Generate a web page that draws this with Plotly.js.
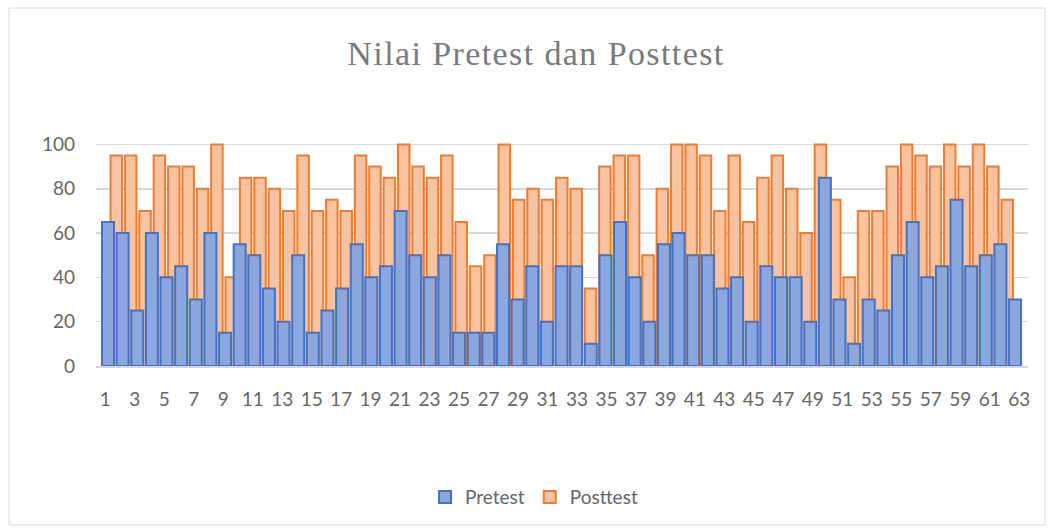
<!DOCTYPE html>
<html>
<head>
<meta charset="utf-8">
<script src="https://cdn.plot.ly/plotly-3.0.1.min.js"></script>
<style>html,body{margin:0;padding:0;background:#fff;}#chart{width:1052px;height:528px;}
#chart .gtitle{letter-spacing:1.4px;}</style>
</head>
<body>
<div id="chart"></div>
<script>
// Category labels (students 1..63)
const categories = Array.from({length: 63}, (_, i) => i + 1);

// Pretest scores
const pretest = [
  65, 60, 25, 60, 40, 45, 30, 60, 15, 55,
  50, 35, 20, 50, 15, 25, 35, 55, 40, 45,
  70, 50, 40, 50, 15, 15, 15, 55, 30, 45,
  20, 45, 45, 10, 50, 65, 40, 20, 55, 60,
  50, 50, 35, 40, 20, 45, 40, 40, 20, 85,
  30, 10, 30, 25, 50, 65, 40, 45, 75, 45,
  50, 55, 30
];

// Posttest scores
const posttest = [
  95, 95, 70, 95, 90, 90, 80, 100, 40, 85,
  85, 80, 70, 95, 70, 75, 70, 95, 90, 85,
  100, 90, 85, 95, 65, 45, 50, 100, 75, 80,
  75, 85, 80, 35, 90, 95, 95, 50, 80, 100,
  100, 95, 70, 95, 65, 85, 95, 80, 60, 100,
  75, 40, 70, 70, 90, 100, 95, 90, 100, 90,
  100, 90, 75
];

const seriesNames = ['Pretest', 'Posttest'];
const yTicks = [0, 20, 40, 60, 80, 100];

const labelTrace = {
  type: 'scatter', mode: 'markers',
  x: categories, y: categories.map(() => null),
  xaxis: 'x', yaxis: 'y', showlegend: false, hoverinfo: 'skip'
};

const postTrace = {
  type: 'bar', name: seriesNames[1],
  x: categories, y: posttest,
  xaxis: 'x2', yaxis: 'y',
  width: 0.8,
  marker: {color: '#f8c3a0', line: {color: '#ED7D31', width: 2}},
  legendrank: 2
};

const preTrace = {
  type: 'bar', name: seriesNames[0],
  x: categories, y: pretest,
  xaxis: 'x3', yaxis: 'y',
  width: 0.82,
  marker: {color: '#8ba7dd', line: {color: '#4472C4', width: 2}},
  legendrank: 1
};

const fontFam = 'Lato, "Open Sans", sans-serif';

const layout = {
  width: 1052, height: 528,
  margin: {l: 96, r: 24, t: 140, b: 162},
  paper_bgcolor: '#ffffff', plot_bgcolor: '#ffffff',
  barmode: 'overlay',
  showlegend: true,
  title: {
    text: 'Nilai Pretest dan Posttest',
    font: {family: '"Liberation Serif", "Times New Roman", serif', size: 34, color: '#7a7a7a'},
    x: 0.5095, xref: 'container', xanchor: 'center',
    y: 0.9, yref: 'container', yanchor: 'middle'
  },
  xaxis: {
    type: 'linear', range: [0.369, 63.6],
    tickmode: 'linear', tick0: 1, dtick: 2,
    showgrid: false, zeroline: false,
    showline: true, linecolor: '#d9d9d9', linewidth: 2,
    ticks: '', ticklabelstandoff: 15,
    tickfont: {family: fontFam, size: 19, color: '#666666'},
    fixedrange: true
  },
  xaxis2: {
    type: 'linear', range: [-0.413, 64.445], overlaying: 'x',
    visible: false, showgrid: false, zeroline: false, fixedrange: true
  },
  xaxis3: {
    type: 'linear', range: [0.18, 63.885], overlaying: 'x',
    visible: false, showgrid: false, zeroline: false, fixedrange: true
  },
  yaxis: {
    range: [0, 102], tickmode: 'array', tickvals: yTicks,
    showgrid: true, gridcolor: '#d9d9d9', gridwidth: 1.5,
    zeroline: false, showline: false, ticks: '', ticklabelstandoff: 20,
    tickfont: {family: fontFam, size: 19, color: '#666666'},
    fixedrange: true
  },
  legend: {
    orientation: 'h', x: 0.47, xanchor: 'center', y: -0.58, yanchor: 'middle',
    font: {family: fontFam, size: 19, color: '#666666'},
    itemwidth: 30, traceorder: 'normal'
  },
  shapes: [{
    type: 'rect', xref: 'paper', yref: 'paper',
    x0: -0.0933, x1: 1.0182, y0: -0.7035, y1: 1.584,
    line: {color: '#d9d9d9', width: 1}, fillcolor: 'rgba(0,0,0,0)', layer: 'below'
  }]
};

Plotly.newPlot('chart', [labelTrace, postTrace, preTrace], layout, {displayModeBar: false, staticPlot: true});
</script>
</body>
</html>
